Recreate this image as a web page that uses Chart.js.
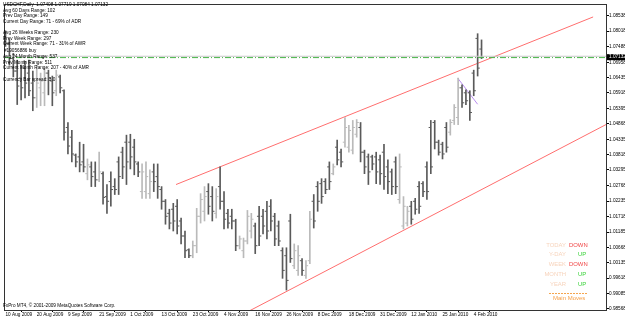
<!DOCTYPE html>
<html>
<head>
<meta charset="utf-8">
<script src="https://cdn.jsdelivr.net/npm/chart.js@4.4.1/dist/chart.umd.min.js"></script>
<style>
html, body { margin: 0; padding: 0; background: #fff; }
canvas { display: block; }
</style>
</head>
<body>
<canvas id="chart" width="625" height="319"></canvas>
<script>
// USDCHF daily bars
const openP = [
  1.0793, 1.0760, 1.0709, 1.0666, 1.0642, 1.0676, 1.0659, 1.0625, 1.0575, 1.0609,
  1.0592, 1.0659, 1.0632, 1.0599, 1.0646, 1.0599, 1.0474, 1.0441, 1.0380, 1.0374,
  1.0357, 1.0317, 1.0340, 1.0323, 1.0296, 1.0317, 1.0239, 1.0290, 1.0273, 1.0357,
  1.0390, 1.0424, 1.0424, 1.0407, 1.0350, 1.0256, 1.0256, 1.0249, 1.0323, 1.0307,
  1.0263, 1.0223, 1.0182, 1.0196, 1.0206, 1.0156, 1.0105, 1.0058, 1.0038, 1.0072,
  1.0172, 1.0189, 1.0256, 1.0239, 1.0182, 1.0273, 1.0223, 1.0182, 1.0172, 1.0156,
  1.0072, 1.0055, 1.0088, 1.0122, 1.0139, 1.0172, 1.0172, 1.0189, 1.0206, 1.0172,
  1.0139, 1.0055, 1.0038, 1.0156, 1.0004, 0.9988, 1.0021, 0.9971, 1.0021, 1.0223,
  1.0273, 1.0283, 1.0290, 1.0340, 1.0317, 1.0407, 1.0390, 1.0424, 1.0407, 1.0397,
  1.0451, 1.0474, 1.0390, 1.0374, 1.0374, 1.0374, 1.0364, 1.0390, 1.0340, 1.0323,
  1.0357, 1.0229, 1.0139, 1.0149, 1.0206, 1.0223, 1.0273, 1.0283, 1.0340, 1.0474,
  1.0491, 1.0424, 1.0417, 1.0474, 1.0458, 1.0498, 1.0508, 1.0609, 1.0592, 1.0592,
  1.0659, 1.0777, 1.07408
];
const highP = [
  1.0803, 1.0773, 1.0726, 1.0703, 1.0686, 1.0699, 1.0703, 1.0666, 1.0686, 1.0659,
  1.0676, 1.0669, 1.0649, 1.0669, 1.0652, 1.0602, 1.0491, 1.0464, 1.0384, 1.0424,
  1.0417, 1.0367, 1.0357, 1.0357, 1.0390, 1.0323, 1.0280, 1.0323, 1.0300, 1.0374,
  1.0407, 1.0448, 1.0451, 1.0434, 1.0357, 1.0350, 1.0357, 1.0330, 1.0350, 1.0350,
  1.0273, 1.0229, 1.0196, 1.0216, 1.0229, 1.0166, 1.0122, 1.0061, 1.0088, 1.0199,
  1.0249, 1.0273, 1.0283, 1.0273, 1.0266, 1.0340, 1.0256, 1.0196, 1.0196, 1.0162,
  1.0105, 1.0098, 1.0192, 1.0182, 1.0149, 1.0206, 1.0196, 1.0223, 1.0229, 1.0182,
  1.0156, 1.0065, 1.0065, 1.0179, 1.0078, 1.0072, 1.0028, 1.0021, 1.0189, 1.0246,
  1.0290, 1.0300, 1.0300, 1.0357, 1.0350, 1.0431, 1.0401, 1.0508, 1.0481, 1.0498,
  1.0501, 1.0491, 1.0397, 1.0384, 1.0380, 1.0390, 1.0380, 1.0417, 1.0364, 1.0333,
  1.0374, 1.0384, 1.0239, 1.0206, 1.0223, 1.0233, 1.0290, 1.0290, 1.0357, 1.0498,
  1.0498, 1.0431, 1.0424, 1.0491, 1.0501, 1.0552, 1.0642, 1.0619, 1.0602, 1.0599,
  1.0669, 1.0793, 1.07719
];
const lowP = [
  1.0750, 1.0686, 1.0646, 1.0552, 1.0568, 1.0575, 1.0582, 1.0531, 1.0542, 1.0548,
  1.0548, 1.0585, 1.0548, 1.0582, 1.0592, 1.0431, 1.0384, 1.0357, 1.0340, 1.0323,
  1.0323, 1.0296, 1.0273, 1.0273, 1.0290, 1.0213, 1.0182, 1.0206, 1.0246, 1.0246,
  1.0300, 1.0280, 1.0333, 1.0313, 1.0307, 1.0233, 1.0233, 1.0233, 1.0256, 1.0233,
  1.0196, 1.0145, 1.0129, 1.0122, 1.0112, 1.0078, 1.0031, 1.0031, 1.0031, 1.0048,
  1.0149, 1.0156, 1.0179, 1.0156, 1.0166, 1.0196, 1.0129, 1.0132, 1.0129, 1.0055,
  1.0061, 1.0031, 1.0078, 1.0098, 1.0045, 1.0072, 1.0112, 1.0095, 1.0122, 1.0072,
  1.0072, 0.9961, 0.9921, 1.0015, 0.9994, 0.9971, 0.9971, 0.9961, 1.0011, 1.0132,
  1.0189, 1.0216, 1.0249, 1.0263, 1.0313, 1.0347, 1.0340, 1.0407, 1.0390, 1.0384,
  1.0441, 1.0357, 1.0317, 1.0280, 1.0330, 1.0283, 1.0280, 1.0263, 1.0249, 1.0246,
  1.0249, 1.0216, 1.0129, 1.0139, 1.0145, 1.0179, 1.0182, 1.0239, 1.0229, 1.0317,
  1.0401, 1.0380, 1.0367, 1.0390, 1.0448, 1.0484, 1.0484, 1.0542, 1.0552, 1.0498,
  1.0582, 1.0649, 1.07084
];
const closeP = [
  1.0760, 1.0709, 1.0666, 1.0615, 1.0609, 1.0625, 1.0599, 1.0575, 1.0625, 1.0632,
  1.0659, 1.0642, 1.0592, 1.0652, 1.0609, 1.0458, 1.0411, 1.0384, 1.0357, 1.0347,
  1.0340, 1.0347, 1.0307, 1.0296, 1.0323, 1.0236, 1.0223, 1.0263, 1.0263, 1.0307,
  1.0340, 1.0357, 1.0374, 1.0357, 1.0323, 1.0323, 1.0307, 1.0290, 1.0290, 1.0273,
  1.0223, 1.0172, 1.0149, 1.0156, 1.0139, 1.0105, 1.0055, 1.0038, 1.0072, 1.0172,
  1.0229, 1.0239, 1.0206, 1.0189, 1.0239, 1.0223, 1.0162, 1.0149, 1.0156, 1.0072,
  1.0095, 1.0088, 1.0172, 1.0162, 1.0072, 1.0105, 1.0139, 1.0122, 1.0156, 1.0095,
  1.0088, 0.9988, 0.9954, 1.0028, 1.0055, 1.0038, 0.9988, 1.0004, 1.0162, 1.0156,
  1.0223, 1.0239, 1.0263, 1.0290, 1.0340, 1.0364, 1.0357, 1.0474, 1.0464, 1.0474,
  1.0491, 1.0390, 1.0340, 1.0323, 1.0350, 1.0323, 1.0317, 1.0307, 1.0290, 1.0273,
  1.0273, 1.0340, 1.0206, 1.0189, 1.0162, 1.0196, 1.0206, 1.0256, 1.0256, 1.0340,
  1.0424, 1.0390, 1.0384, 1.0407, 1.0491, 1.0542, 1.0609, 1.0558, 1.0565, 1.0525,
  1.0599, 1.0676, 1.07132
];

const dateIdx = [0, 8, 16, 24, 32, 40, 48, 56, 64, 72, 80, 88, 96, 104, 112, 120];
const dateLabels = ['10 Aug 2009', '20 Aug 2009', '9 Sep 2009', '21 Sep 2009', '1 Oct 2009',
  '13 Oct 2009', '23 Oct 2009', '4 Nov 2009', '16 Nov 2009', '26 Nov 2009', '8 Dec 2009',
  '18 Dec 2009', '31 Dec 2009', '12 Jan 2010', '25 Jan 2010', '4 Feb 2010'];
const priceTicks = [1.08538, 1.08018, 1.07488, 1.06958, 1.06435, 1.05918, 1.05395, 1.04868,
  1.04335, 1.03818, 1.03295, 1.02768, 1.02235, 1.01718, 1.01185, 1.00668, 1.00135,
  0.99618, 0.99085, 0.98568];

// drawn objects, in bar index / price
const upperTrend = [{x: 43.7, y: 1.0280}, {x: 150.6, y: 1.0850}];
const lowerTrend = [{x: 60.0, y: 0.9833}, {x: 153.9, y: 1.0484}];
const shortTrend = [{x: 115.9, y: 1.0642}, {x: 121.0, y: 1.0553}];
const orderPrice = 1.07117;
const askPrice = 1.07162;
const bidPrice = 1.07132;

const infoLines = ['USDCHF,Daily  1.07408 1.07719 1.07084 1.07132', 'Avg 60 Days Range: 102',
  'Prev Day Range: 149', 'Current Day Range: 71 - 69% of ADR', 'Avg 26 Weeks Range: 230',
  'Prev Week Range: 297', 'Current Week Range: 71 - 31% of AWR', 'Avg 24 Month Range: 537',
  'Prev Month Range: 511', 'Current Month Range: 207 - 40% of AMR', 'Currency Bar spread: 3.0'];
const moveNames = ['TODAY', 'Y-DAY', 'WEEK', 'MONTH', 'YEAR'];
const moveDirs = ['DOWN', 'UP', 'DOWN', 'UP', 'UP'];

const FONT = "Arial, 'Liberation Sans', sans-serif";
const X_MIN = -0.13, X_MAX = 153.9;
const idx = openP.map((_, i) => i);
const barColor = i => closeP[i] > openP[i] ? '#bababa' : '#5a5a5a';

const overlay = {
  id: 'overlay',
  afterDatasetsDraw(chart) {
    const {ctx, chartArea: a} = chart;
    ctx.save();
    ctx.strokeStyle = '#333';
    ctx.lineWidth = 1;
    ctx.strokeRect(a.left - 0.5, a.top - 0.5, a.right - a.left + 1, a.bottom - a.top + 1);

    ctx.fillStyle = '#000';
    ctx.textBaseline = 'middle';
    ctx.textAlign = 'left';
    ctx.font = '4.7px ' + FONT;
    const ys = [5, 10.5, 16, 21.5, 33, 38.5, 44, 57, 62.5, 68, 80];
    infoLines.forEach((t, i) => ctx.fillText(t, 3, ys[i]));
    ctx.fillText('#19056886 buy', 4, 51);
    ctx.fillText('FxPro MT4, \u00a9 2001-2009 MetaQuotes Software Corp.', 3, 306);

    ctx.font = '5.9px ' + FONT;
    moveNames.forEach((n, i) => {
      const y = 245 + i * 9.8;
      ctx.textAlign = 'right';
      ctx.fillStyle = '#f7d3bb';
      ctx.fillText(n, 566, y);
      ctx.textAlign = 'left';
      ctx.fillStyle = moveDirs[i] === 'UP' ? '#3ad23a' : '#f04646';
      ctx.fillText(moveDirs[i], moveDirs[i] === 'UP' ? 578 : 569, y);
    });
    ctx.strokeStyle = '#f5a54e';
    ctx.setLineDash([2, 1]);
    ctx.beginPath();
    ctx.moveTo(549, 293.5);
    ctx.lineTo(588, 293.5);
    ctx.stroke();
    ctx.setLineDash([]);
    ctx.font = '6px ' + FONT;
    ctx.textAlign = 'left';
    ctx.fillStyle = '#f5a04a';
    ctx.fillText('Main Moves', 553, 298);
    ctx.restore();
  },
  afterDraw(chart) {
    const {ctx, chartArea: a, scales} = chart;
    const y = scales.y.getPixelForValue(bidPrice);
    ctx.save();
    ctx.fillStyle = '#000';
    ctx.fillRect(a.right + 1, y - 3, 30, 6);
    ctx.fillStyle = '#fff';
    ctx.font = '4.7px ' + FONT;
    ctx.textBaseline = 'middle';
    ctx.fillText(bidPrice.toFixed(5), a.right + 3, y);
    ctx.restore();
  }
};

new Chart(document.getElementById('chart'), {
  type: 'bar',
  data: {
    datasets: [
      {
        type: 'line',
        data: [{x: X_MIN, y: askPrice}, {x: X_MAX, y: askPrice}],
        borderColor: '#c8c8c8', borderWidth: 1, pointRadius: 0
      },
      {
        type: 'line',
        data: [{x: X_MIN, y: orderPrice}, {x: X_MAX, y: orderPrice}],
        borderColor: '#46b446', borderWidth: 1, borderDash: [6, 2, 1, 2], pointRadius: 0
      },
      {
        type: 'bar',
        data: idx.map(i => ({x: i, y: [lowP[i], highP[i]]})),
        backgroundColor: c => barColor(c.dataIndex),
        barThickness: 1, borderWidth: 0
      },
      {
        type: 'scatter',
        data: idx.map(i => ({x: i - 0.3, y: openP[i]})),
        pointStyle: 'line', pointRadius: 1, pointBorderWidth: 1,
        pointBorderColor: c => barColor(c.dataIndex)
      },
      {
        type: 'scatter',
        data: idx.map(i => ({x: i + 0.3, y: closeP[i]})),
        pointStyle: 'line', pointRadius: 1, pointBorderWidth: 1,
        pointBorderColor: c => barColor(c.dataIndex)
      },
      {
        type: 'line', data: upperTrend,
        borderColor: '#ff6e6e', borderWidth: 1, pointRadius: 0
      },
      {
        type: 'line', data: lowerTrend,
        borderColor: '#ff6e6e', borderWidth: 1, pointRadius: 0
      },
      {
        type: 'line', data: shortTrend,
        borderColor: '#b98cf0', borderWidth: 1, pointRadius: 0
      }
    ]
  },
  options: {
    responsive: false,
    animation: false,
    events: [],
    layout: { padding: { left: 2, top: 1, right: 0, bottom: 0 } },
    plugins: { legend: { display: false }, tooltip: { enabled: false } },
    scales: {
      x: {
        type: 'linear', min: X_MIN, max: X_MAX, offset: false,
        afterBuildTicks: s => { s.ticks = dateIdx.map(v => ({value: v})); },
        afterFit: s => { s.height = 9; },
        ticks: {
          autoSkip: false, maxRotation: 0, align: 'start', padding: 0,
          color: '#000', font: { family: FONT, size: 4.7 },
          callback: v => dateLabels[dateIdx.indexOf(v)] || ''
        },
        grid: { drawOnChartArea: false, tickLength: 2, color: '#000' },
        border: { display: false }
      },
      y: {
        type: 'linear', position: 'right', min: 0.98533, max: 1.08906,
        afterBuildTicks: s => { s.ticks = priceTicks.map(v => ({value: v})); },
        afterFit: s => { s.width = 19; },
        ticks: {
          autoSkip: false, padding: 0, color: '#000',
          font: { family: FONT, size: 4.7 },
          callback: v => v.toFixed(5)
        },
        grid: { drawOnChartArea: false, tickLength: 3, color: '#000' },
        border: { display: false }
      }
    }
  },
  plugins: [overlay]
});
</script>
</body>
</html>
